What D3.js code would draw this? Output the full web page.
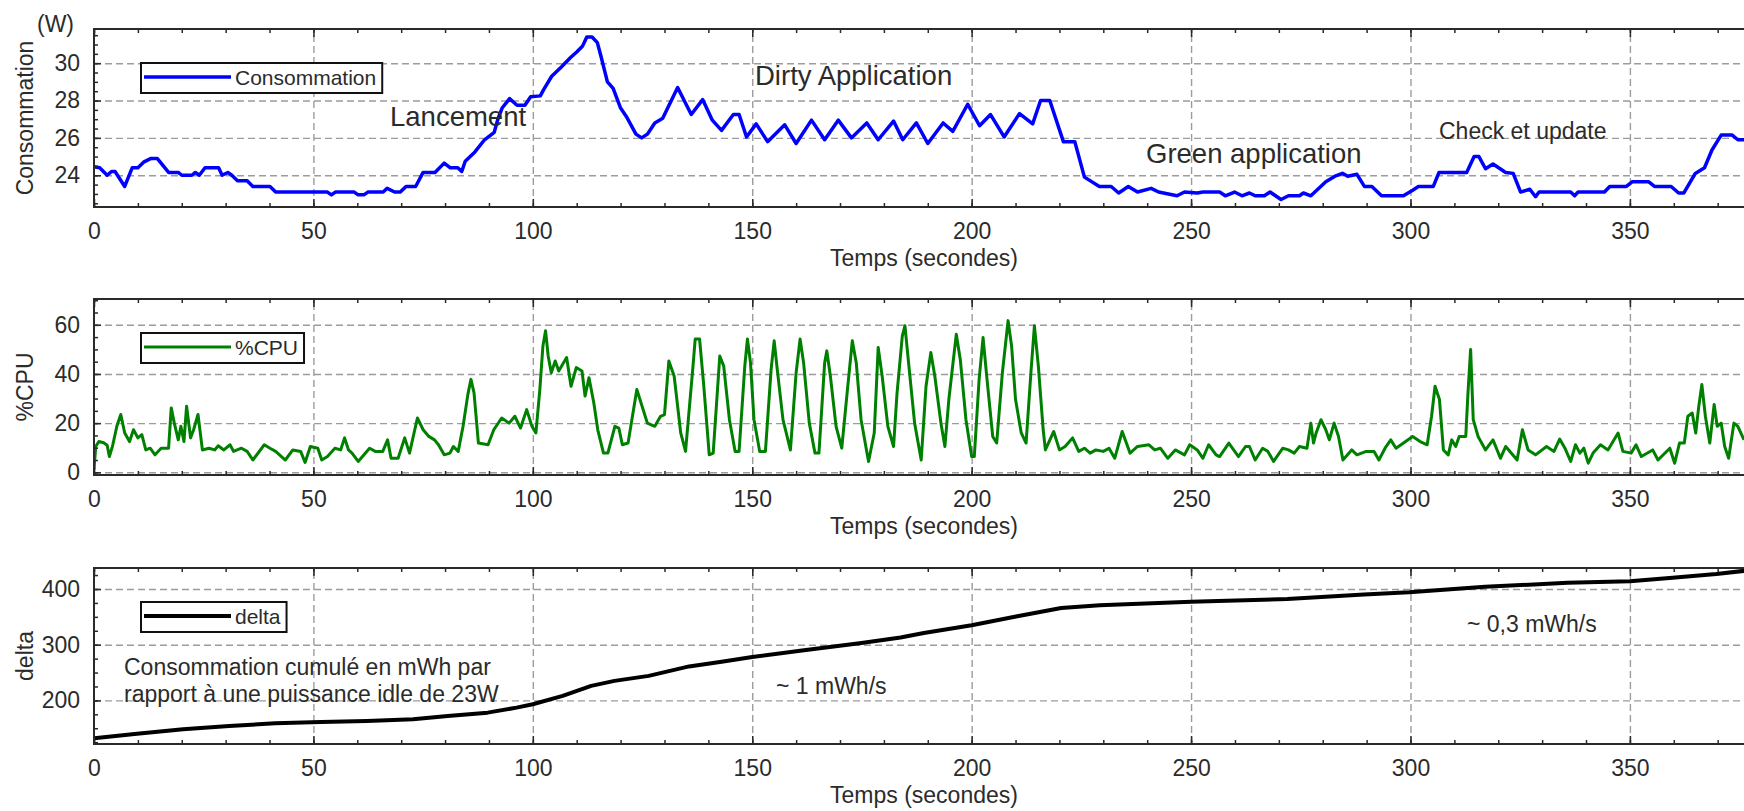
<!DOCTYPE html>
<html>
<head>
<meta charset="utf-8">
<script src="https://cdn.jsdelivr.net/npm/d3@7"></script>
<style>
    body { margin: 0; background: #fff; }
    svg { display: block; }
    text { font-family: "Liberation Sans", Arial, sans-serif; fill: #2b2b2b; }
</style>
</head>
<body>
<svg class="chart"></svg>
<script>
// time axis: major ticks (labelled) and minor ticks
const timeTicks = [0, 50, 100, 150, 200, 250, 300, 350]
const timeMinor = [0, 10, 20, 30, 40, 50, 60, 70, 80, 90, 100, 110, 120, 130, 140, 150, 160, 170, 180, 190,
    200, 210, 220, 230, 240, 250, 260, 270, 280, 290, 300, 310, 320, 330, 340, 350, 360, 370]

// y tick labels of each panel
const consoTicks = [24, 26, 28, 30]
const cpuTicks = [0, 20, 40, 60]
const deltaTicks = [200, 300, 400]

// Consommation (W)
const consoTime = [0, 1.3, 3, 4, 4.8, 7, 8.7, 10, 11.3, 13, 14.4, 17, 19.2, 20, 22.3, 23.1, 24, 25.3, 28.4, 29.2,
    30.5, 31.4, 32.7, 34.9, 36.2, 40.1, 41.4, 53.2, 54.1, 55, 59.3, 60.2, 61.5, 62.4, 65.9, 66.8, 68.5, 69.8, 71.1, 73.3,
    75, 77.7, 79.8, 81.2, 82.9, 83.8, 84.6, 86.8, 89, 91.2, 92.1, 93, 94.7, 96.4, 98.2, 99.5, 101.7, 102.5, 104.3, 106.5,
    108.6, 110, 111.3, 112.3, 113.5, 114.7, 115.5, 117, 118.3, 120, 121.3, 123.5, 124.8, 126.1, 127.8, 129.6, 133, 136.1, 138.7, 140.9,
    143, 145.7, 147, 148.7, 150.9, 153.5, 157.4, 160, 163.5, 166.5, 169.6, 172.6, 176.1, 178.7, 182.2, 184.3, 187.4, 190, 193.5, 195.7,
    199.1, 201.8, 204.3, 207.4, 210.9, 213.9, 215.7, 217.8, 220.9, 223.5, 225.7, 229.1, 231.8, 233.5, 235.7, 237.8, 240.9, 242.6, 246.8, 248.5,
    251.4, 252.7, 256.5, 257.8, 259.9, 261.6, 263.3, 264.6, 266.7, 268, 270.5, 272.2, 274.7, 275.6, 277.3, 280.7, 282.8, 284.5, 285.7, 287.8,
    289.5, 291.2, 293.4, 298.4, 300.5, 301.8, 305.2, 306.5, 312.8, 314.5, 315.6, 317.1, 318.8, 321.7, 323.4, 325.1, 327.2, 328.5, 329.3, 336.5,
    337.4, 338.2, 344.2, 345.4, 349.2, 350.5, 354.3, 355.6, 359.4, 361.1, 362.3, 364.9, 367, 368.7, 370.8, 373.3, 374.6, 376.5]
const consoWatts = [24.45, 24.4, 24.0, 24.2, 24.2, 23.4, 24.4, 24.4, 24.7, 24.9, 24.9, 24.15, 24.15, 24.0, 24.0, 24.15, 24.0, 24.4, 24.4, 24.0,
    24.15, 24.0, 23.7, 23.7, 23.4, 23.4, 23.1, 23.1, 22.95, 23.1, 23.1, 22.95, 22.95, 23.1, 23.1, 23.3, 23.1, 23.1, 23.4, 23.4,
    24.15, 24.15, 24.65, 24.4, 24.4, 24.2, 24.75, 25.25, 25.9, 26.3, 27.05, 27.6, 28.1, 27.75, 27.75, 28.2, 28.25, 28.6, 29.3, 29.8,
    30.3, 30.6, 30.9, 31.4, 31.4, 31.1, 30.4, 29.0, 28.65, 27.6, 27.15, 26.2, 26.0, 26.2, 26.8, 27.05, 28.7, 27.25, 28.05, 26.95,
    26.4, 27.25, 27.25, 26.05, 26.75, 25.8, 26.7, 25.7, 26.95, 25.9, 26.95, 26.0, 26.8, 25.9, 26.9, 25.9, 26.8, 25.7, 26.8, 26.35,
    27.8, 26.65, 27.25, 26.05, 27.3, 26.75, 28.0, 28.0, 25.8, 25.8, 23.9, 23.4, 23.4, 23.05, 23.4, 23.1, 23.3, 23.1, 22.9, 23.1,
    23.05, 23.1, 23.1, 22.9, 23.1, 22.9, 23.05, 22.9, 22.9, 23.1, 22.7, 22.9, 22.9, 23.05, 22.9, 23.65, 23.95, 24.1, 23.95, 24.05,
    23.4, 23.4, 22.9, 22.9, 23.2, 23.4, 23.4, 24.15, 24.15, 25.0, 25.0, 24.35, 24.6, 24.15, 24.1, 23.1, 23.25, 22.85, 23.1, 23.1,
    22.9, 23.1, 23.1, 23.4, 23.4, 23.65, 23.65, 23.4, 23.4, 23.05, 23.05, 24.1, 24.4, 25.35, 26.15, 26.15, 25.9, 25.9]

// %CPU
const cpuTime = [0, 0.4, 1.1, 2.2, 3, 3.5, 4.2, 5.2, 6.1, 7, 8.1, 9, 10, 10.9, 11.8, 12.8, 13.9, 15.3, 17, 17.6,
    18.3, 19.2, 19.8, 20.5, 21.1, 22, 22.7, 23.7, 24.7, 26.2, 27.5, 28.3, 29.6, 31, 31.8, 33.6, 34.9, 36.2, 38.8, 40.1,
    41.4, 43.6, 45.3, 47.1, 48.1, 49.3, 51, 51.9, 53.2, 54.9, 56.2, 57.1, 58, 58.8, 60.2, 62.8, 64.1, 65.8, 66.9, 67.7,
    69.3, 70.8, 71.9, 73.7, 75, 76.3, 77.6, 78.5, 79.8, 81.1, 81.9, 83, 84.1, 85.2, 85.9, 86.6, 87.6, 89.8, 91.1, 92.9,
    94.6, 95.9, 97.2, 98.6, 99.8, 100.7, 101.6, 102.3, 102.9, 103.5, 104.2, 105.1, 105.9, 107.7, 108.7, 109.9, 111.2, 111.9, 112.8, 113.9,
    114.8, 116.1, 117.1, 118.7, 119.6, 120.4, 121.7, 123.7, 126.1, 127.8, 129.1, 130, 131, 132.2, 133.7, 134.8, 136.5, 137, 138, 138.9,
    140.2, 141.1, 142.6, 143.5, 144.8, 146.1, 147, 148.3, 148.9, 149.6, 150.4, 151.7, 153, 154.3, 155, 155.7, 157, 158.7, 160, 160.9,
    161.7, 163, 164.3, 165.2, 166.5, 167, 167.8, 169.1, 170.4, 171.7, 172.8, 173.7, 174.8, 176.5, 177.8, 178.7, 179.6, 180.9, 182.2, 183,
    184.2, 184.8, 185.7, 187, 188.5, 189.6, 190.7, 191.6, 193, 193.9, 194.8, 196.5, 197.4, 198.7, 200, 200.6, 201.7, 202.6, 203.5, 204.8,
    205.7, 207, 208.3, 209.1, 210, 211.3, 212.4, 213.5, 214.3, 215.2, 216.3, 216.8, 218.7, 220, 221.3, 223, 224.4, 225.7, 227, 228.3,
    230, 231.3, 232.6, 234.3, 236.1, 237.8, 240.4, 241.7, 243, 244.7, 246.4, 248.5, 249.7, 251.4, 252.7, 254, 255.7, 256.5, 258.6, 260.8,
    262.4, 263.3, 264.6, 266.3, 267.5, 268.8, 270.9, 272.2, 273.5, 274.7, 276.4, 277.3, 277.9, 278.5, 279.6, 280.7, 281.5, 282.6, 283.6, 284.6,
    286.6, 287.8, 289.9, 291.7, 292.8, 294.2, 295.5, 296.7, 298.4, 300.5, 302.2, 303.8, 304.8, 305.6, 306.6, 307.5, 308.6, 309.4, 310.3, 311.1,
    312.6, 313.1, 313.7, 314.3, 315.4, 317.1, 318.8, 320.5, 321.7, 324.3, 325.5, 326.8, 328.5, 331, 332.7, 334, 335.2, 336.5, 337.6, 338.6,
    339.5, 340.5, 341.6, 343.3, 345, 347.3, 348.4, 350.3, 351.4, 352.6, 355.2, 356.4, 359.1, 360.2, 361.3, 362.4, 363.2, 364.2, 365, 365.7,
    366.4, 367.2, 368.2, 369.2, 369.9, 370.8, 371.6, 372.5, 373.7, 374.6, 376]
const cpuPercent = [1, 10.5, 12.5, 12, 11, 6.4, 10.5, 18.7, 23.5, 16, 12.5, 17.3, 14, 15.3, 9.1, 9.8, 7.1, 9.8, 9.8, 26.2,
    20, 13.2, 18.7, 12.5, 26.9, 14, 17.3, 23.5, 9.1, 9.8, 9.1, 10.8, 9.1, 11.2, 8.5, 9.8, 8.5, 5, 11.2, 9.8,
    8.5, 5, 9.1, 8.5, 4, 10.5, 9.8, 5, 6.4, 9.8, 9.1, 14, 9.1, 7.8, 4.4, 9.8, 8.5, 8.5, 13.2, 5.7,
    5.7, 14, 7.8, 22.1, 17.3, 14.6, 13.2, 11.2, 7.1, 7.8, 10.5, 8.5, 18.7, 31.7, 37.8, 32.3, 11.9, 11.2, 17.3, 22.1,
    20, 22.8, 18, 25.5, 18.7, 16, 33.7, 51.4, 57.6, 47.3, 40.5, 45.3, 41.2, 46.7, 35, 42.6, 41.2, 31, 38.5, 28.2,
    17.3, 7.8, 7.8, 18.7, 18, 11.2, 11.9, 33.7, 20, 18.7, 22.8, 23.5, 45.3, 39.2, 16, 8.5, 43.2, 54.2, 54.2, 36.4,
    7.1, 7.8, 47.3, 43.2, 21.4, 8.5, 8.5, 43.2, 54.2, 44.6, 21.4, 8.5, 8.5, 41.9, 53.5, 41.9, 21.4, 9.1, 40.5, 54.2,
    44.6, 20, 7.8, 7.8, 44.6, 49.4, 39.2, 18.7, 9.8, 33.7, 53.5, 44.6, 21.4, 4.4, 16, 50.8, 39.2, 18.7, 10.5, 32.3,
    55.5, 59.6, 43.2, 20, 5, 35, 48.7, 39.2, 20, 10.5, 29.6, 56.2, 46, 21.4, 6.4, 6.4, 37.8, 54.8, 37.8, 14.6,
    11.9, 40.5, 61.7, 51.4, 29.6, 16, 11.9, 40.5, 59.6, 43.2, 17.3, 9.1, 16.6, 9.1, 10.5, 14, 8.5, 9.8, 7.8, 9.1,
    8.5, 9.8, 5.7, 16.6, 7.8, 10.5, 11.2, 9.1, 9.8, 5.7, 9.1, 7.1, 11.2, 9.1, 5.7, 11.2, 7.1, 6.4, 11.9, 6.4,
    10.5, 10.5, 5, 9.8, 8.5, 4.4, 9.8, 9.1, 7.8, 10.5, 9.8, 20, 11.9, 16, 21.4, 17.3, 13.2, 20, 14.6, 5,
    9.1, 7.1, 8.5, 8.5, 5, 9.8, 13.2, 9.8, 11.9, 14.6, 12.5, 11.2, 22.8, 35, 29.6, 9.1, 7.1, 13.2, 10.5, 14.6,
    14.6, 32.3, 50, 21.4, 14.6, 9.1, 13.2, 5.7, 10.5, 5, 17.3, 9.1, 7.1, 10.5, 8.5, 13.5, 9.8, 4.4, 11.2, 7.8,
    9.8, 3.7, 7.8, 11.2, 9.1, 16, 8.5, 7.8, 11.2, 6.4, 9.1, 5, 9.8, 3.7, 11.9, 11.9, 22.8, 24.1, 16, 26.9,
    35.7, 22.8, 11.9, 27.6, 18.7, 20, 10.5, 5.7, 20, 18.7, 13.2]

// delta (mWh cumulés)
const deltaTime = [0, 9.8, 20.3, 30.8, 41.3, 51.7, 62.2, 72.7, 80.6, 89.7, 96.3, 100, 106.8, 113.3, 118.6, 126.4, 135.6, 143.4, 150, 161.8,
    174.9, 183.8, 189.1, 200, 210.4, 220.4, 229.2, 250, 271.9, 289.4, 299.7, 317, 335.8, 350, 359.7, 369.7, 376.5]
const deltaValue = [132, 140, 148, 154, 159, 161, 163, 166, 172, 178, 187, 193, 208, 226, 235, 244, 261, 270, 278, 290,
    303, 313, 321, 335, 351, 366, 371, 377, 382, 390, 394, 404, 411, 414, 420, 427, 433]

const svg = d3.select("svg.chart")
    .attr("width", 1744)
    .attr("height", 811)

const W = 1744
const scaleX = d3.scaleLinear()
    .domain([0, 376])
    .range([94, W])
const x0 = scaleX(0)

const panels = [
    {id: "conso", top: 29, bottom: 207, domain: [22.3, 31.83], ticks: consoTicks, minorStep: 0.5,
        time: consoTime, values: consoWatts, color: "#0000ff", width: 3.5, label: "Consommation"},
    {id: "cpu", top: 299, bottom: 475, domain: [-1.1, 70.5], ticks: cpuTicks, minorStep: 5,
        time: cpuTime, values: cpuPercent, color: "#008000", width: 3, label: "%CPU"},
    {id: "delta", top: 568, bottom: 744, domain: [121.7, 437.7], ticks: deltaTicks, minorStep: 25,
        time: deltaTime, values: deltaValue, color: "#000000", width: 4, label: "delta"}
]

const cleanAxis = g => {
    g.attr("font-size", null).attr("font-family", null)
    g.select(".domain").remove()
}

const drawPanel = function(p) {
    const h = p.bottom - p.top
    const scaleY = d3.scaleLinear()
        .domain(p.domain)
        .range([p.bottom, p.top])

    const g = svg.append("g").attr("class", "panel-" + p.id)

    // dashed grid
    g.append("g")
        .attr("transform", `translate(0, ${p.bottom})`)
        .call(d3.axisBottom(scaleX).tickValues(timeTicks.slice(1)).tickSize(-h).tickFormat(""))
        .call(cleanAxis)
    g.append("g")
        .attr("transform", `translate(${x0}, 0)`)
        .call(d3.axisLeft(scaleY).tickValues(p.ticks).tickSize(-(W - x0)).tickFormat(""))
        .call(cleanAxis)
    g.selectAll(".tick line")
        .attr("stroke", "#9c9c9c")
        .attr("stroke-width", 1.4)
        .attr("stroke-dasharray", "7,4")

    // the series line, clipped to the plot
    svg.append("clipPath")
        .attr("id", "clip-" + p.id)
        .append("rect")
        .attr("x", x0)
        .attr("y", p.top)
        .attr("width", W - x0)
        .attr("height", h)

    const line = d3.line()
        .x(d => scaleX(d[0]))
        .y(d => scaleY(d[1]))

    g.append("path")
        .datum(d3.zip(p.time, p.values))
        .attr("clip-path", `url(#clip-${p.id})`)
        .attr("fill", "none")
        .attr("stroke", p.color)
        .attr("stroke-width", p.width)
        .attr("stroke-linejoin", "round")
        .attr("d", line)

    // frame (right side is cut off in the original)
    g.append("path")
        .attr("d", `M${W + 5},${p.top}H${x0}V${p.bottom}H${W + 5}`)
        .attr("fill", "none")
        .attr("stroke", "#2a2a2a")
        .attr("stroke-width", 2)

    // inward ticks, minor then major
    const tickGroups = [
        {axis: d3.axisBottom, at: p.top, values: timeMinor, size: 4},
        {axis: d3.axisTop, at: p.bottom, values: timeMinor, size: 4},
        {axis: d3.axisBottom, at: p.top, values: timeTicks, size: 8},
        {axis: d3.axisTop, at: p.bottom, values: timeTicks, size: 8}
    ]
    tickGroups.forEach(t => {
        g.append("g")
            .attr("transform", `translate(0, ${t.at})`)
            .call(t.axis(scaleX).tickValues(t.values).tickSize(t.size).tickFormat(""))
            .call(cleanAxis)
            .selectAll("line").attr("stroke", "#2a2a2a").attr("stroke-width", 1.5)
    })
    const minorY = d3.range(Math.ceil(p.domain[0] / p.minorStep) * p.minorStep, p.domain[1], p.minorStep)
    g.append("g")
        .attr("transform", `translate(${x0}, 0)`)
        .call(d3.axisRight(scaleY).tickValues(minorY).tickSize(4).tickFormat(""))
        .call(cleanAxis)
        .selectAll("line").attr("stroke", "#2a2a2a").attr("stroke-width", 1.5)
    g.append("g")
        .attr("transform", `translate(${x0}, 0)`)
        .call(d3.axisRight(scaleY).tickValues(p.ticks).tickSize(7).tickFormat(""))
        .call(cleanAxis)
        .selectAll("line").attr("stroke", "#2a2a2a").attr("stroke-width", 1.5)

    // tick labels
    const axisX = g.append("g")
        .attr("transform", `translate(0, ${p.bottom})`)
        .call(d3.axisBottom(scaleX).tickValues(timeTicks).tickSize(0).tickPadding(16))
        .call(cleanAxis)
    axisX.selectAll("text").style("font-size", "23px")

    const axisY = g.append("g")
        .attr("transform", `translate(${x0}, 0)`)
        .call(d3.axisLeft(scaleY).tickValues(p.ticks).tickSize(0).tickPadding(14))
        .call(cleanAxis)
    axisY.selectAll("text").style("font-size", "23px")

    // axis titles
    g.append("text")
        .attr("x", 924)
        .attr("y", p.bottom + 59)
        .attr("text-anchor", "middle")
        .style("font-size", "23px")
        .text("Temps (secondes)")

    g.append("text")
        .attr("transform", `translate(33, ${(p.top + p.bottom) / 2}) rotate(-90)`)
        .attr("text-anchor", "middle")
        .style("font-size", "23px")
        .text(p.label)

    // legend
    const legend = g.append("g").attr("transform", `translate(141, ${p.top + 34})`)
    const box = legend.append("rect")
        .attr("x", 0)
        .attr("y", 0)
        .attr("height", 30)
        .attr("fill", "#fff")
        .attr("stroke", "#111")
        .attr("stroke-width", 2)
    legend.append("line")
        .attr("x1", 3)
        .attr("x2", 90)
        .attr("y1", 14)
        .attr("y2", 14)
        .attr("stroke", p.color)
        .attr("stroke-width", p.width)
    const legendText = legend.append("text")
        .attr("x", 94)
        .attr("y", 22)
        .style("font-size", "21px")
        .text(p.label)
    box.attr("width", 94 + legendText.node().getComputedTextLength() + 6)
}

panels.forEach(drawPanel)

// "(W)" unit above the first y title
svg.append("text")
    .attr("x", 37)
    .attr("y", 32)
    .style("font-size", "23px")
    .text("(W)")

// annotations
const annotate = (txt, x, y, size) => {
    svg.append("text")
        .attr("x", x)
        .attr("y", y)
        .style("font-size", size + "px")
        .text(txt)
}
annotate("Lancement", 390, 126, 27.5)
annotate("Dirty Application", 755, 85, 27.5)
annotate("Green application", 1146, 163, 27.5)
annotate("Check et update", 1439, 139, 23)
annotate("Consommation cumulé en mWh par", 124, 675, 23)
annotate("rapport à une puissance idle de 23W", 124, 702, 23)
annotate("~ 1 mWh/s", 776, 694, 23)
annotate("~ 0,3 mWh/s", 1467, 632, 23)
</script>
</body>
</html>
